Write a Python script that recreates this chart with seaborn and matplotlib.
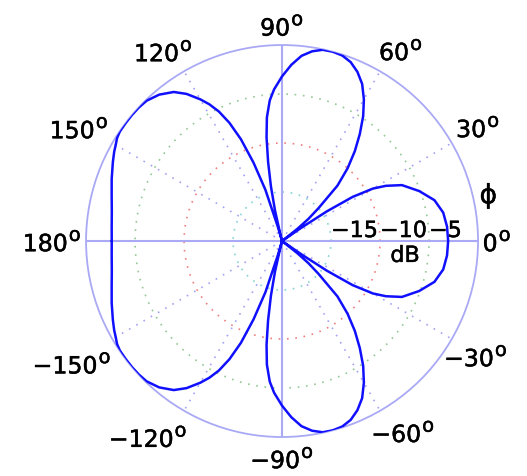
import numpy as np
import matplotlib
matplotlib.use("Agg")
import matplotlib.pyplot as plt
import matplotlib.patheffects as pe
import seaborn as sns

# Radiation pattern: azimuth (deg) and normalised gain (dB), -180..180
phi_deg = [
    -180, -175, -170, -165, -160, -155, -152, -150, -148, -146, -143, -140,
    -137, -134, -130, -126, -123, -120, -118, -116, -114, -112, -110, -108,
    -106.5, -105.5, -104.5, -103, -101.5, -100, -98.5, -97, -95, -93, -90,
    -87, -84, -81, -78, -75, -72, -69, -66, -63, -60, -57, -54, -51, -48,
    -45, -42, -40, -38.5, -37, -35.5, -34.5, -33.5, -32, -30, -28, -25, -20,
    -15, -10, -5,
    0, 5, 10, 15, 20, 25, 28, 30, 32, 33.5, 34.5, 35.5, 37, 38.5, 40, 42, 45,
    48, 51, 54, 57, 60, 63, 66, 69, 72, 75, 78, 81, 84, 87, 90, 93, 95, 97,
    98.5, 100, 101.5, 103, 104.5, 105.5, 106.5, 108, 110, 112, 114, 116, 118,
    120, 123, 126, 130, 134, 137, 140, 143, 146, 148, 150, 152, 155, 160, 165,
    170, 175, 180,
]
gain_db = [
    -2.62, -2.55, -2.36, -2.0, -1.5, -0.95, -0.6, -0.4, -0.15, -0.03, -0.01,
    0.0, -0.02, -0.1, -0.5, -1.2, -2.1, -3.3, -4.2, -5.3, -6.8, -8.8, -11.5,
    -14.5, -18.5, -21.0, -19.3, -16.8, -14.3, -11.8, -9.3, -7.3, -5.6, -4.5,
    -3.2, -2.0, -1.0, -0.4, -0.05, 0.0, -0.1, -0.45, -1.1, -2.0, -3.3, -4.8,
    -6.5, -8.2, -10.0, -12.0, -15.0, -16.5, -18.0, -21.0, -21.0, -17.5, -14.5,
    -11.5, -9.3, -8.0, -6.5, -5.1, -3.9, -3.3, -3.1,
    -3.05, -3.1, -3.3, -3.9, -5.1, -6.5, -8.0, -9.3, -11.5, -14.5, -17.5, -21.0, -21.0, -18.0, -16.5, -15.0, -12.0,
    -10.0, -8.2, -6.5, -4.8, -3.3, -2.0, -1.1, -0.45, -0.1, 0.0, -0.05, -0.4, -1.0, -2.0, -3.2, -4.5, -5.6, -7.3,
    -9.3, -11.8, -14.3, -16.8, -19.3, -21.0, -18.5, -14.5, -11.5, -8.8, -6.8, -5.3, -4.2,
    -3.3, -2.1, -1.2, -0.5, -0.1, -0.02, 0.0, -0.01, -0.03, -0.15, -0.4, -0.6, -0.95, -1.5, -2.0,
    -2.36, -2.55, -2.62,
]

# Grid: range rings (dB) and angular spokes (deg)
ring_db = [-15, -10, -5]
ring_text = ["\u221215", "\u221210", "\u22125"]
spoke_deg = [0, 30, 60, 90, 120, 150, 180, -150, -120, -90, -60, -30]
spoke_text = ["0", "30", "60", "90", "120", "150", "180",
              "\u2212150", "\u2212120", "\u221290", "\u221260", "\u221230"]

R_MIN, R_MAX = -20, 0

sns.set_theme(style="white")
plt.rcParams["font.family"] = ["DejaVu Sans"]
plt.rcParams["text.color"] = "black"

fig = plt.figure(figsize=(5.27, 4.76), dpi=100)
ax = fig.add_axes([0.1632, 0.0819, 0.744, 0.8235], projection="polar")
ax.set_ylim(R_MIN, R_MAX)
ax.grid(False)
ax.set_xticks([])
ax.set_yticks([])
ax.spines["polar"].set_color("#a9a9f5")
ax.spines["polar"].set_linewidth(1.3)

full = np.linspace(0, 2 * np.pi, 361)
ring_colors = ["#86d4d4", "#f08080", "#94c894"]
for rv, col in zip(ring_db, ring_colors):
    ax.plot(full, np.full_like(full, rv), color=col, lw=1.2,
            ls=(0, (1, 4)), zorder=1)

for d in spoke_deg:
    t = np.deg2rad(d)
    if d % 90 == 0:
        ax.plot([t, t], [R_MIN, R_MAX], color="#a9a9f5", lw=1.5, zorder=1)
    else:
        ax.plot([t, t], [R_MIN, R_MAX], color="#a4a4f2", lw=1.2,
                ls=(0, (1, 4)), zorder=1)

# Pattern curve (values under the floor sit on the centre)
theta = np.deg2rad(phi_deg)
rr = np.maximum(np.asarray(gain_db), R_MIN)
sns.lineplot(x=theta, y=rr, sort=False, estimator=None, ax=ax,
             color="#1010ff", lw=1.8, zorder=3)
ax.set_xlabel("")
ax.set_ylabel("")

heavy = [pe.withStroke(linewidth=0.35, foreground="black")]

# Angle labels around the rim: (direction, radius as fraction of rim)
label_dir = [0, 30.2, 58.1, 90, 122, 150.9, 180,
             -149.8, -124.4, -90, -57.6, -30.7]
label_scale = [1.097, 1.157, 1.148, 1.10, 1.143, 1.185, 1.173,
               1.24, 1.21, 1.107, 1.153, 1.15]
for d, txt, s in zip(label_dir, spoke_text, label_scale):
    r_lab = R_MIN + (R_MAX - R_MIN) * s
    num = ax.annotate(txt, xy=(np.deg2rad(d), r_lab),
                      xytext=(-5, -7.3), textcoords="offset points",
                      ha="center", va="baseline", fontsize=17,
                      annotation_clip=False, path_effects=heavy)
    ax.annotate("o", xy=(1, 0), xycoords=num, xytext=(0.8, 11),
                textcoords="offset points", ha="left", va="baseline",
                fontsize=14, annotation_clip=False, path_effects=heavy)

# Ring labels along the 0 deg axis
for rv, txt in zip(ring_db, ring_text):
    ax.text(0, rv, txt, ha="left", va="bottom", fontsize=16,
            path_effects=heavy)
ax.annotate("dB", xy=(0, -10), xytext=(18, -3.5), textcoords="offset points",
            ha="center", va="top", fontsize=16, path_effects=heavy)
ax.annotate("\u03d5", xy=(np.deg2rad(13), R_MIN + (R_MAX - R_MIN) * 1.08),
            xytext=(0, -2), textcoords="offset points",
            ha="center", va="center", fontsize=19, annotation_clip=False,
            path_effects=heavy)

fig.savefig("out.png", dpi=100, facecolor="white")
